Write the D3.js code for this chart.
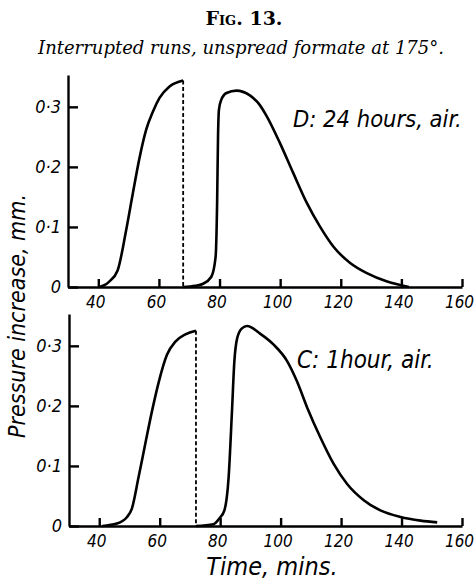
<!DOCTYPE html>
<html>
<head>
<meta charset="utf-8">
<script src="https://cdn.jsdelivr.net/npm/d3@7"></script>
<style>
  body { margin: 0; background: #fff; }
  .hand { font-family: "DejaVu Sans Condensed", "DejaVu Sans", sans-serif; font-style: italic; font-stretch: condensed; }
  .axis path, .axis line { stroke: #000; stroke-width: 2.4; }
  .axis text { fill: #000; }
</style>
</head>
<body>
<div id="chart"></div>
<script>
// tick values shared by both panels
const timeTicks = [40, 60, 80, 100, 120, 140, 160];
const pressureTicks = [0, 0.1, 0.2, 0.3];

// D: 24 hours, air -- run before the interruption
const dBeforeTime = [40.3, 42, 43.6, 46.4, 49.2, 51.4, 53.6, 55.8, 58.0, 60.2, 63.5, 68];
const dBeforeP    = [0, 0.003, 0.009, 0.028, 0.095, 0.156, 0.215, 0.262, 0.292, 0.315, 0.334, 0.344];
// D: run after the interruption
const dAfterTime = [68, 72, 74.4, 77.3, 78.7, 79.2, 79.5, 79.8, 80.6, 82.3, 85.6, 90, 93, 95.5, 99.9, 104.3, 108.8, 113.2, 117.6, 123.1, 128.6, 135.3, 142.5];
const dAfterP    = [0, 0.002, 0.005, 0.017, 0.05, 0.14, 0.25, 0.295, 0.312, 0.323, 0.327, 0.319, 0.305, 0.285, 0.24, 0.19, 0.14, 0.10, 0.067, 0.04, 0.023, 0.009, 0];
const dCut = 68;

// C: 1 hour, air
const cBeforeTime = [41, 45.8, 49.2, 50.8, 53, 55.2, 57.4, 59.6, 62.4, 65.2, 68.5, 72];
const cBeforeP    = [0, 0.004, 0.015, 0.029, 0.081, 0.136, 0.19, 0.238, 0.285, 0.307, 0.319, 0.325];
const cAfterTime = [72, 77.8, 79.8, 81.4, 82.8, 83.9, 84.7, 85.6, 87.2, 88.9, 93.3, 97.7, 102.1, 105.4, 108.8, 113.2, 117.6, 122, 127.5, 133, 139.7, 146.3, 151.8];
const cAfterP    = [0, 0.003, 0.013, 0.026, 0.081, 0.19, 0.274, 0.312, 0.329, 0.333, 0.32, 0.302, 0.275, 0.241, 0.197, 0.147, 0.103, 0.07, 0.043, 0.026, 0.015, 0.009, 0.006];
const cCut = 72;

const width = 476, height = 580;

const svg = d3.select("#chart").append("svg")
    .attr("width", width)
    .attr("height", height);

// headings
svg.append("text")
    .attr("x", 244).attr("y", 25)
    .attr("text-anchor", "middle")
    .style("font-family", "'DejaVu Serif', serif")
    .style("font-weight", "bold")
    .style("font-variant", "small-caps")
    .style("font-size", "19px")
    .text("Fig. 13.");

svg.append("text")
    .attr("x", 241).attr("y", 54)
    .attr("text-anchor", "middle")
    .style("font-family", "'DejaVu Serif', serif")
    .style("font-style", "italic")
    .style("font-size", "18px")
    .text("Interrupted runs, unspread formate at 175°.");

function fmtP(d) {
    return d === 0 ? "0" : d.toFixed(1).replace(".", "·");
}

function drawPanel(p) {
    let x = d3.scaleLinear().domain([30, 160]).range([p.left, 462]);
    let y = d3.scaleLinear().domain([0, 0.353]).range([p.bottom, p.top]);

    let g = svg.append("g");

    let xAxis = d3.axisBottom(x)
        .tickValues(timeTicks)
        .tickSizeInner(-8)
        .tickSizeOuter(0)
        .tickPadding(9);
    g.append("g")
        .attr("class", "axis hand")
        .attr("transform", `translate(0, ${p.bottom})`)
        .call(xAxis)
        .selectAll("text")
        .attr("dx", -3)
        .style("font-size", "17px");

    let yAxis = d3.axisLeft(y)
        .tickValues(pressureTicks)
        .tickFormat(fmtP)
        .tickSizeInner(-10)
        .tickSizeOuter(0)
        .tickPadding(7);
    g.append("g")
        .attr("class", "axis hand")
        .attr("transform", `translate(${p.left}, 0)`)
        .call(yAxis)
        .selectAll("text")
        .style("font-size", "18px");

    let line = d3.line()
        .x(d => x(d[0]))
        .y(d => y(d[1]))
        .curve(d3.curveMonotoneX);

    [[p.beforeT, p.beforeP], [p.afterT, p.afterP]].forEach(s => {
        g.append("path")
            .datum(d3.zip(s[0], s[1]))
            .attr("d", line)
            .attr("fill", "none")
            .attr("stroke", "#000")
            .attr("stroke-width", 2.6)
            .attr("stroke-linejoin", "round");
    });

    g.append("line")
        .attr("x1", x(p.cut)).attr("x2", x(p.cut))
        .attr("y1", y(p.cutP)).attr("y2", y(0))
        .attr("stroke", "#000")
        .attr("stroke-width", 1.8)
        .attr("stroke-dasharray", "4,2.5");

    g.append("text")
        .attr("class", "hand")
        .attr("x", p.labelX).attr("y", p.labelY)
        .style("font-size", p.labelSize)
        .text(p.label);
}

drawPanel({
    left: 68, top: 75, bottom: 287,
    beforeT: dBeforeTime, beforeP: dBeforeP,
    afterT: dAfterTime, afterP: dAfterP,
    cut: dCut, cutP: dBeforeP[dBeforeP.length - 1],
    label: "D: 24 hours, air.", labelX: 293, labelY: 127, labelSize: "23.5px"
});

drawPanel({
    left: 69, top: 314, bottom: 526,
    beforeT: cBeforeTime, beforeP: cBeforeP,
    afterT: cAfterTime, afterP: cAfterP,
    cut: cCut, cutP: cBeforeP[cBeforeP.length - 1],
    label: "C: 1hour, air.", labelX: 297, labelY: 368, labelSize: "24px"
});

// axis titles
svg.append("text")
    .attr("class", "hand")
    .attr("transform", "translate(25, 316) rotate(-90)")
    .attr("text-anchor", "middle")
    .style("font-size", "23px")
    .text("Pressure increase, mm.");

svg.append("text")
    .attr("class", "hand")
    .attr("x", 272).attr("y", 575)
    .attr("text-anchor", "middle")
    .style("font-size", "25px")
    .text("Time, mins.");
</script>
</body>
</html>
